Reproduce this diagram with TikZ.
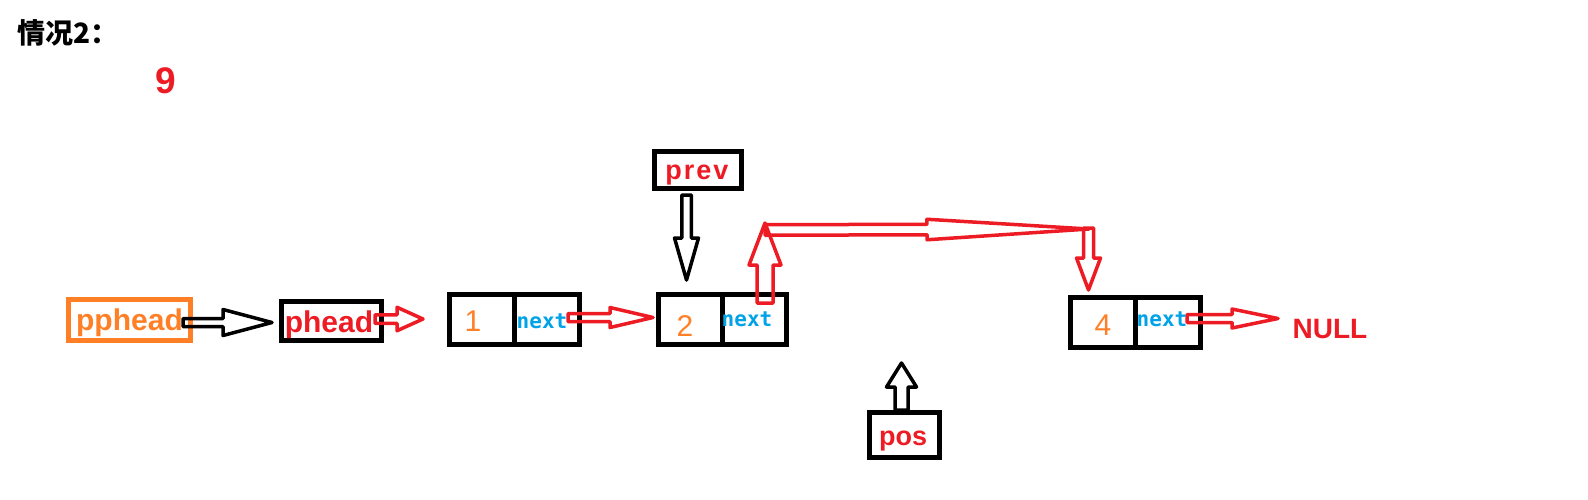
\documentclass[tikz,border=0pt]{standalone}
\usepackage{fontspec}
\setmainfont{Liberation Sans}
\newfontfamily\monofont{DejaVu Sans Mono}
\newfontfamily\cjk{Noto Sans CJK SC}
\usetikzlibrary{calc}
\definecolor{pred}{RGB}{237,28,36}
\definecolor{porange}{RGB}{255,127,39}
\definecolor{pblue}{RGB}{0,162,232}
% #1 style, #2 from, #3 to, #4 shaft half width, #5 head half width, #6 head length
\newcommand\blockarrow[6]{%
  \draw[#1] let \p1=(#2), \p2=(#3), \n1={atan2(\y2-\y1,\x2-\x1)}, \n2={veclen(\x2-\x1,\y2-\y1)} in
    [shift={(\p1)}, rotate=\n1]
    (0,#4) -- ({\n2-#6},#4) -- ({\n2-#6},#5) -- ({\n2},0) -- ({\n2-#6},-#5) -- ({\n2-#6},-#4) -- (0,-#4) -- cycle;}
\begin{document}
\begin{tikzpicture}[x=1pt,y=-1pt,
  box/.style={draw, line width=5pt, inner sep=0pt, outer sep=0pt},
  lbl/.style={inner sep=0pt, outer sep=0pt, font=\bfseries\fontsize{30}{30}\selectfont},
  num/.style={inner sep=0pt, outer sep=0pt, text=porange, font=\fontsize{30}{30}\selectfont},
  nxt/.style={inner sep=0pt, outer sep=0pt, text=pblue, font=\monofont\bfseries\fontsize{21}{21}\selectfont},
  arr/.style={line width=3.5pt, line join=round},
]
\useasboundingbox (0,0) rectangle (1588,499);

% title
\node[inner sep=0pt, anchor=west, font=\cjk\bfseries\fontsize{28}{28}\selectfont] (title) at (17,33) {情况2：};
\node[inner sep=0pt, text=pred, font=\bfseries\fontsize{37}{37}\selectfont] (nine) at (166,81) {9};

% pointer boxes
\node[box, draw=porange, minimum width=122pt, minimum height=41pt] (pphead) at (129.5,320) {};
\node[lbl, text=porange] (ppheadt) at (129.5,323) {pphead};
\node[box, minimum width=100pt, minimum height=39pt] (phead) at (331.5,321) {};
\node[lbl, text=pred] (pheadt) at (329,324.5) {phead};
\node[box, minimum width=87pt, minimum height=37pt] (prev) at (698,170) {};
\node[lbl, text=pred, font=\bfseries\fontsize{27}{27}\selectfont] (prevt) at (697,175) {p\kern2pt r\kern2pt e\kern2pt v};
\node[box, minimum width=70pt, minimum height=45pt] (pos) at (904.5,435) {};
\node[lbl, text=pred, font=\bfseries\fontsize{27}{27}\selectfont] (post) at (903,441) {pos};

% list nodes
\node[box, minimum width=65pt, minimum height=50pt] (n1v) at (482,319.5) {};
\node[box, minimum width=65pt, minimum height=50pt] (n1n) at (547,319.5) {};
\node[box, minimum width=64pt, minimum height=50pt] (n2v) at (690.5,319.5) {};
\node[box, minimum width=64pt, minimum height=50pt] (n2n) at (754.5,319.5) {};
\node[box, minimum width=65pt, minimum height=50pt] (n4v) at (1103,322.5) {};
\node[box, minimum width=65pt, minimum height=50pt] (n4n) at (1168,322.5) {};

% arrows
\coordinate (a1s) at (183,322.5);  \coordinate (a1e) at (272,322.5);
\coordinate (a2s) at (375,319);    \coordinate (a2e) at (423,319);
\coordinate (a3s) at (568,317.5);  \coordinate (a3e) at (653,317.5);
\coordinate (a4s) at (1187,318.5); \coordinate (a4e) at (1278,318.5);
\coordinate (a5s) at (686.5,195);  \coordinate (a5e) at (686.5,280);
\coordinate (a6s) at (901.5,410);  \coordinate (a6e) at (901.5,363);
\coordinate (a7s) at (765,303);    \coordinate (a7e) at (765,223);
\coordinate (a8s) at (765,230);    \coordinate (a8e) at (1089,229);
\coordinate (a9s) at (1088.5,228); \coordinate (a9e) at (1088.5,290);

\blockarrow{arr, black}{a1s}{a1e}{4}{13}{49}
\blockarrow{arr, pred}{a2s}{a2e}{4.25}{11.75}{26}
\blockarrow{arr, pred}{a3s}{a3e}{4}{10}{43}
\blockarrow{arr, pred}{a4s}{a4e}{4}{9.5}{46}
\blockarrow{arr, black}{a5s}{a5e}{4.75}{12}{42}
\blockarrow{arr, black}{a6s}{a6e}{6.5}{15}{24}
\blockarrow{arr, pred}{a7s}{a7e}{8}{16}{42}
\blockarrow{arr, pred}{a8s}{a8e}{5.25}{10.25}{162}
\blockarrow{arr, pred}{a9s}{a9e}{5}{12}{32}

% texts in list nodes
\node[num] (t1) at (473,321) {1};
\node[num] (t2) at (685,326) {2};
\node[num] (t4) at (1103,325) {4};
\node[nxt] (x1) at (542,321) {next};
\node[nxt] (x2) at (747,319) {next};
\node[nxt] (x4) at (1162,319) {next};

\node[lbl, text=pred, font=\bfseries\fontsize{28}{28}\selectfont] (null) at (1330,329) {NULL};
\end{tikzpicture}
\end{document}
